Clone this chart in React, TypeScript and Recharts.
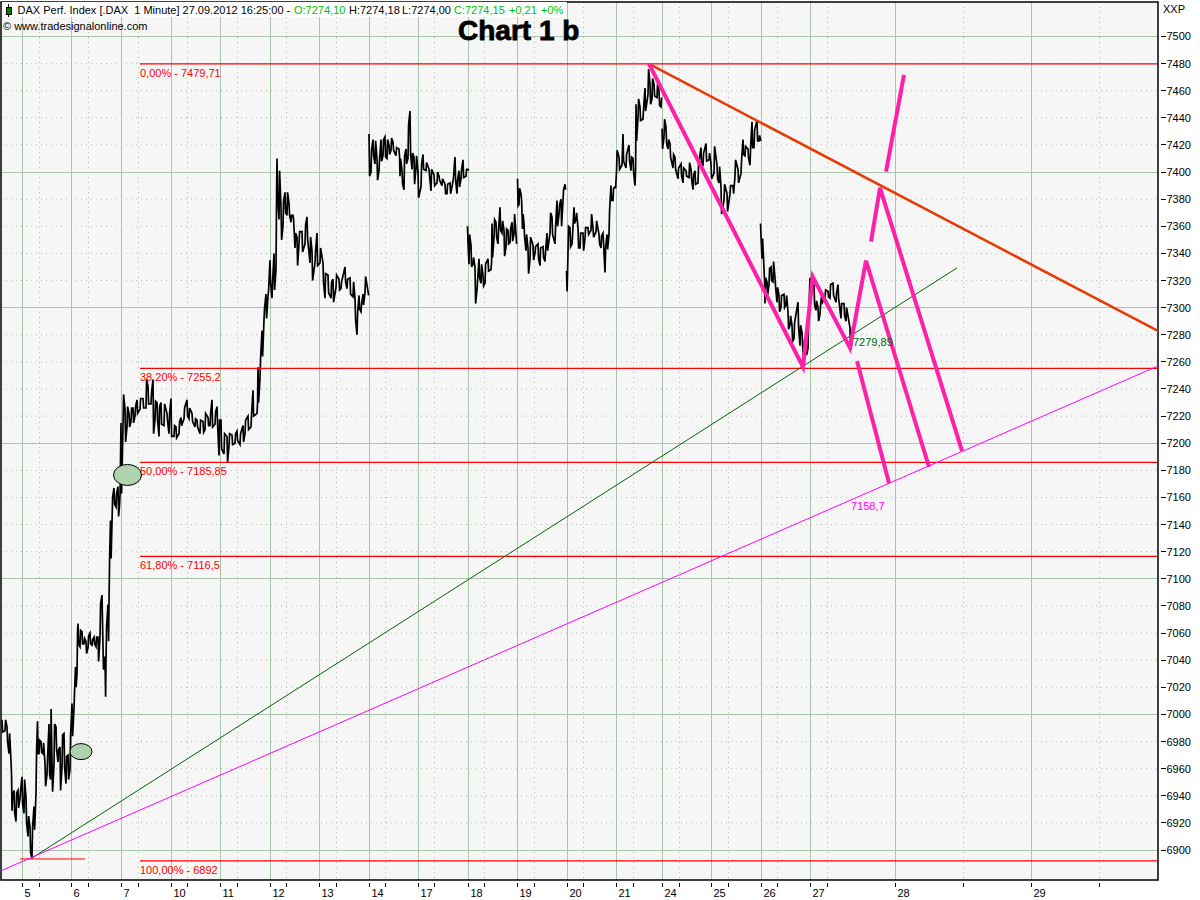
import React from 'react';
import { ComposedChart, Line, XAxis, YAxis, CartesianGrid, ReferenceDot, ReferenceArea } from 'recharts';

// slot position on the time axis, top price, bottom price of each sampled stretch
type Col = [number, number, number];
const stretchA: Col[] = [[2,6996,6987],[5,6996,6988],[7,6991,6980],[9,6986,6971],[11,6966,6954],[12,6940,6929],[14,6944,6928],[16,6942,6921],[18,6944,6931],[20,6944,6938],[22,6954,6934],[24,6952,6927],[26,6939,6920],[28,6925,6910],[30,6917,6898],[32,6917,6894],[34,6932,6915],[36,6974,6942],[37.5,6995,6971],[39,6981,6971],[41,6980,6972],[43,6979,6971],[45,6964,6947],[47,6968,6956],[49,6993,6956],[50.5,7004,6952],[52,6966,6943],[54,6993,6963],[56,6991,6974],[58,6974,6965],[60,6976,6944],[62,6985,6961],[64,6986,6961],[66,6969,6949],[68,6970,6952],[70,6985,6959],[72,7008,6984],[74,7018,7004],[75.5,7035,7020],[77,7062,7030],[78,7067,7052],[80,7062,7050],[82,7061,7052],[84,7056,7052],[86,7054,7045],[88,7058,7049],[90,7060,7052],[92,7055,7051],[94,7057,7052],[96,7057,7050],[98,7057,7039],[100,7082,7057],[102,7088,7065],[103.5,7041,7033],[105,7042,7013],[106,7065,7040],[108,7081,7054],[109,7115,7082],[110.5,7143,7115],[112,7160,7141],[114,7167,7155],[116,7163,7153],[118,7168,7146],[119.5,7163,7154],[121,7215,7163],[123,7236,7212],[125,7225,7201],[127,7227,7212],[129,7222,7212],[131,7226,7216],[133,7226,7215],[135,7227,7220],[137,7232,7222],[140,7233,7225],[143,7233,7226],[146,7247,7226],[148,7242,7229],[151,7238,7229],[153,7247,7207],[155,7231,7217],[157,7230,7217],[159,7227,7205],[161,7230,7214],[164,7229,7213],[167,7222,7216],[169,7222,7207],[171,7233,7205],[174,7213,7205],[176,7212,7204],[179,7216,7207],[181,7219,7213],[184,7226,7218],[187,7232,7220],[189,7226,7218],[192,7222,7216],[195,7218,7212],[197,7217,7212],[200,7217,7207],[203,7216,7208],[205,7222,7210],[208,7219,7213],[210,7222,7213],[212,7232,7212],[215,7223,7214],[217,7227,7214],[219,7217,7191],[221,7217,7196],[224,7207,7192],[227,7205,7186],[229,7207,7198],[232,7206,7199],[235,7207,7200],[237,7209,7202],[240,7207,7199],[243,7213,7201],[245,7217,7207],[248,7220,7210],[251,7222,7212],[253,7239,7220],[257,7230,7222],[258,7256,7230],[260,7263,7248],[262,7283,7264],[264,7300,7291],[266,7310,7292],[268,7313,7308],[270,7335,7318],[272,7319,7307],[274,7340,7313],[276,7384,7328],[277,7410,7384],[279,7401,7365],[281,7374,7350],[283,7379,7360],[285,7385,7370],[287,7385,7368],[289,7377,7368],[291,7368,7363],[293,7368,7365],[295,7355,7344],[297,7352,7331],[299,7356,7347],[302,7356,7341],[305,7361,7347],[307,7367,7351],[310,7352,7333],[312,7342,7320],[315,7342,7333],[317,7355,7331],[320,7344,7333],[323,7333,7318],[325,7325,7307],[328,7324,7311],[331,7319,7307],[333,7321,7304],[336,7324,7315],[339,7321,7313],[341,7319,7314],[345,7330,7319],[347,7321,7314],[350,7322,7310],[353,7319,7308],[355,7307,7291],[357,7296,7280],[359,7309,7299],[361,7303,7297],[363,7310,7302],[365,7323,7311],[368,7312,7309]];
const stretchB: Col[] = [[369,7428,7397],[371,7416,7400],[373,7424,7412],[375,7423,7406],[377,7410,7394],[379,7410,7401],[381,7424,7408],[383,7424,7412],[385,7426,7411],[387,7424,7410],[389,7420,7413],[391,7425,7416],[393,7422,7416],[396,7418,7412],[399,7417,7411],[400,7410,7397],[402,7401,7391],[404,7412,7387],[406,7417,7406],[408,7435,7410],[410,7445,7413],[412,7414,7402],[414,7411,7391],[416,7412,7403],[418,7400,7381],[421,7406,7389],[423,7413,7402],[426,7407,7401],[429,7402,7397],[431,7402,7386],[434,7398,7390],[437,7400,7392],[439,7397,7394],[442,7395,7390],[445,7391,7384],[447,7391,7384],[450,7392,7384],[453,7397,7393],[455,7411,7394],[457,7394,7384],[459,7401,7389],[461,7402,7395],[463,7409,7396],[466,7402,7397],[468,7402,7401]];
const stretchC: Col[] = [[467.5,7360,7346],[469,7354,7332],[471,7346,7330],[473,7337,7332],[475,7330,7303],[477,7320,7313],[479,7336,7322],[481,7332,7318],[483,7324,7316],[485,7332,7318],[488,7336,7327],[491,7334,7328],[492,7362,7337],[494,7365,7352],[496,7363,7352],[498,7358,7347],[500,7374,7357],[502,7364,7355],[504,7357,7338],[506,7358,7345],[508,7357,7347],[510,7358,7348],[512,7363,7349],[514,7369,7354],[516,7354,7347]];
const stretchD: Col[] = [[517.5,7395,7375],[519,7388,7376],[521,7384,7379],[522.5,7369,7358],[524,7362,7352],[526,7354,7342],[528,7344,7325],[530,7352,7336],[533,7346,7335],[535,7345,7340],[538,7347,7336],[540,7344,7331],[543,7345,7337],[545,7342,7334],[547,7355,7342],[550,7370,7355],[552,7367,7354],[555,7360,7347],[557,7379,7360],[559,7376,7369],[561,7380,7360],[563,7387,7379],[565,7391,7387]];
const stretchE: Col[] = [[566.5,7327,7312],[568,7360,7340],[570,7359,7345],[572,7354,7347],[574,7374,7362],[576,7370,7365],[578,7359,7344],[580,7355,7344],[583,7355,7342],[585,7359,7351],[588,7359,7354],[591,7369,7357],[593,7359,7352],[596,7364,7356],[599,7354,7347],[601,7353,7344],[603,7355,7347],[605,7344,7326],[607,7354,7343],[609,7372,7354],[611,7390,7379],[613,7388,7379],[615,7389,7388],[616.5,7416,7400],[619,7411,7402],[622,7419,7405],[623,7428,7408],[626,7413,7403],[629,7420,7408],[631,7411,7401],[633,7410,7400],[635,7403,7390],[636,7450,7423],[638,7454,7440],[640,7448,7438],[643,7447,7439],[645,7462,7445],[648,7476,7457],[650,7465,7450],[652,7469,7454],[654,7465,7456],[657,7465,7455],[659,7460,7449],[661,7455,7448]];
const stretchF: Col[] = [[662,7432,7417],[664,7439,7426],[666,7433,7421],[668,7424,7417],[670,7421,7411],[673,7413,7403],[675,7411,7402],[678,7403,7395],[681,7406,7397],[683,7403,7392],[686,7401,7397],[689,7407,7396],[691,7402,7395],[693,7398,7387],[695,7401,7391],[698,7406,7392],[701,7418,7405],[703,7414,7405],[706,7421,7408],[709,7414,7409],[711,7406,7395],[714,7419,7399],[717,7405,7395],[719,7404,7392],[721,7389,7369],[724,7391,7379],[727,7384,7371],[730,7390,7384],[733,7390,7384],[735,7409,7397],[738,7402,7392],[741,7409,7399],[743,7424,7413],[745,7419,7412],[748,7417,7410],[750,7418,7405],[752,7437,7418],[754,7431,7418],[757,7438,7423],[759,7427,7423],[760.5,7424,7423]];
const stretchG: Col[] = [[760.5,7362,7351],[762,7351,7336],[764,7329,7319],[765,7322,7303],[767,7319,7309],[769,7329,7317],[771,7330,7320],[773,7334,7319],[775,7322,7315],[777,7315,7304],[779,7309,7297],[781,7309,7300],[784,7310,7300],[786,7309,7302],[788,7297,7284],[790,7294,7287],[792,7287,7275],[794,7289,7277],[798,7304,7285],[800,7287,7272],[802,7282,7272],[804,7277,7259],[806,7275,7265],[808,7292,7270],[810,7322,7307],[812,7322,7312],[814,7317,7302],[816,7305,7298],[818,7300,7290],[820,7302,7295],[822,7311,7304],[825,7313,7307],[828,7312,7308],[830,7317,7307],[833,7318,7309],[836,7311,7304],[838,7317,7307],[841,7303,7292],[844,7303,7294],[846,7300,7290],[850,7285,7269],[852,7286,7274]];
const stretches = [stretchA, stretchB, stretchC, stretchD, stretchE, stretchF, stretchG];

const dayLabels = ['5','6','7','10','11','12','13','14','17','18','19','20','21','24','25','26','27','28','29'];
const dayTicks = [22.5,71.5,121.5,171.5,220.5,270.5,319.5,369.5,418.5,468.5,517.5,567.5,616.5,662.5,711.5,761.5,810.5,895.5,1031.5];
const halfDayTicks = [39.5,88.5,138.5,187.5,237.5,286.5,336.5,385.5,434.5,484.5,534.5,583.5,633.5,679.5,728.5,777.5,827.5,963.5,1099.5];
const priceTicks = [6900,6920,6940,6960,6980,7000,7020,7040,7060,7080,7100,7120,7140,7160,7180,7200,7220,7240,7260,7280,7300,7320,7340,7360,7380,7400,7420,7440,7460,7480,7500];
const hundredTicks = [6900,7000,7100,7200,7300,7400,7500];
const twentyTicks = priceTicks.filter((p) => !hundredTicks.includes(p));

const fibLevels = [7479.71, 7255.2, 7185.85, 7116.5, 6892];
const fibLabels = ['0,00% - 7479,71', '38,20% - 7255,2', '50,00% - 7185,85', '61,80% - 7116,5', '100,00% - 6892'];

type Pt = { x: number; y: number };
const resistance: Pt[] = [{ x: 649, y: 7479.7 }, { x: 1158, y: 7282.8 }];
const greenTrend: Pt[] = [{ x: 31.7, y: 6894 }, { x: 957, y: 7329.3 }];
const magentaTrend: Pt[] = [{ x: 1, y: 6884.7 }, { x: 1158, y: 7257 }];
const lowMark: Pt[] = [{ x: 20, y: 6893.4 }, { x: 85, y: 6893.4 }];
const pinkMain: Pt[] = [{ x: 649, y: 7479.7 }, { x: 803, y: 7256.2 }, { x: 812.7, y: 7322.8 }, { x: 850, y: 7270.2 }, { x: 866, y: 7334.6 }, { x: 929, y: 7182.5 }];
const pinkSecond: Pt[] = [{ x: 871, y: 7348.7 }, { x: 880, y: 7388.3 }, { x: 962, y: 7194.3 }];
const pinkThird: Pt[] = [{ x: 886, y: 7400.3 }, { x: 904, y: 7471.6 }];
const pinkFourth: Pt[] = [{ x: 857, y: 7260.6 }, { x: 889, y: 7170.7 }];
const ovals = [{ x: 127.5, y: 7176.6, rx: 14, ry: 10.5 }, { x: 81, y: 6972.6, rx: 11, ry: 8 }];

const priceRows: { x: number; y: number | null }[] = [];
stretches.forEach((s) => {
  s.forEach(([x, hi, lo], i) => {
    if (i % 2 === 0) {
      priceRows.push({ x, y: hi });
      priceRows.push({ x: x + 0.6, y: lo });
    } else {
      priceRows.push({ x, y: lo });
      priceRows.push({ x: x + 0.6, y: hi });
    }
  });
  priceRows.push({ x: s[s.length - 1][0] + 0.7, y: null });
});

const FONT = '"Liberation Sans", Arial, sans-serif';
const GRID = '#aac4aa';
const fmtPlain = { fontFamily: FONT, fontSize: 11 };

const XTick = (p: any) => {
  const i = dayTicks.indexOf(p.payload.value);
  return (
    <g>
      <line x1={p.x} x2={p.x} y1={883} y2={887} stroke="#000" shapeRendering="crispEdges" />
      {i >= 0 && <text x={p.x + 2} y={897} {...fmtPlain} fill="#000">{dayLabels[i]}</text>}
    </g>
  );
};
const YTick = (p: any) => (
  <g>
    <line x1={1161} x2={1166} y1={p.y} y2={p.y} stroke="#000" shapeRendering="crispEdges" />
    <text x={1166.5} y={p.y + 4} {...fmtPlain} fill="#000">{p.payload.value}</text>
  </g>
);

const thin = (data: Pt[], stroke: string, w: number, key: string) => (
  <Line key={key} data={data} dataKey="y" stroke={stroke} strokeWidth={w} dot={false} isAnimationActive={false} legendType="none" />
);
const note = (x: number, y: number, txt: string, fill: string, dy: number, key: string) => (
  <ReferenceDot key={key} x={x} y={y} r={1} shape={(s: any) => <text x={s.cx} y={s.cy + dy} {...fmtPlain} fill={fill}>{txt}</text>} />
);

const headerText: [number, string, string][] = [
  [17.5, 'DAX Perf. Index [.DAX  1 Minute] 27.09.2012 16:25:00 - ', '#000'],
  [294, 'O:7274,10', '#00c000'],
  [349, 'H:7274,18', '#000'],
  [402, 'L:7274,00', '#000'],
  [454, 'C:7274,15', '#00c000'],
  [509, '+0,21', '#00c000'],
  [541, '+0%', '#00c000'],
];

export default function App() {
  return (
    <div style={{ position: 'absolute', left: 0, top: 0, width: 1200, height: 900, background: '#fff', overflow: 'hidden' }}>
      <ComposedChart width={1200} height={900} data={priceRows} margin={{ top: 2, left: 1, right: 0, bottom: 0 }}>
        <CartesianGrid fill="#f6f6f6" stroke={GRID} strokeWidth={1} horizontalValues={hundredTicks} verticalValues={dayTicks} shapeRendering="crispEdges" />
        <CartesianGrid stroke={GRID} strokeWidth={1} strokeDasharray="1 4" horizontalValues={twentyTicks} verticalValues={halfDayTicks} />
        <XAxis dataKey="x" type="number" domain={[1, 1158]} ticks={[...dayTicks, ...halfDayTicks].sort((a, b) => a - b)} tick={XTick} tickLine={false} axisLine={false} height={20} allowDataOverflow interval={0} />
        <YAxis orientation="right" type="number" domain={[6877.9, 7525.4]} ticks={priceTicks} tick={YTick} tickLine={false} axisLine={false} width={42} allowDataOverflow interval={0} />
        <Line dataKey="y" stroke="#000" strokeWidth={1.7} dot={false} connectNulls={false} isAnimationActive={false} legendType="none" />
        {fibLevels.map((lv, i) => thin([{ x: 140, y: lv }, { x: 1158, y: lv }], '#ff0000', 1.2, `fib${i}`))}
        {thin(lowMark, '#ff0000', 1, 'low')}
        {thin(greenTrend, '#006400', 1, 'green')}
        {thin(magentaTrend, '#ff00ff', 1, 'magenta')}
        {thin(resistance, '#e83a00', 2.5, 'res')}
        {thin(pinkMain, '#ff20aa', 4, 'p1')}
        {thin(pinkSecond, '#ff20aa', 4, 'p2')}
        {thin(pinkThird, '#ff20aa', 4, 'p3')}
        {thin(pinkFourth, '#ff20aa', 4, 'p4')}
        {ovals.map((o, i) => (
          <ReferenceDot key={`o${i}`} x={o.x} y={o.y} r={1} shape={(s: any) => <ellipse cx={s.cx} cy={s.cy} rx={o.rx} ry={o.ry} fill="#aed3ad" stroke="#000" strokeWidth={1} />} />
        ))}
        {fibLevels.map((lv, i) => note(140, lv, fibLabels[i], '#ff0000', 13, `fl${i}`))}
        {note(853, 7272, '7279,89', '#006400', 0, 'n1')}
        {note(851, 7158.7, '7158,7', '#ff00ff', 11, 'n2')}
        <ReferenceArea x1={1} x2={1158} y1={6877.9} y2={7525.4} fill="none" stroke="#000" strokeWidth={1.5} ifOverflow="visible" />
      </ComposedChart>

      <div style={{ position: 'absolute', left: 2, top: 2, width: 565, height: 15, background: '#fff' }} />
      {headerText.map(([x, t, c], i) => (
        <div key={i} style={{ position: 'absolute', left: x, top: 3, font: `11px ${FONT}`, color: c, whiteSpace: 'pre', lineHeight: '14px' }}>{t}</div>
      ))}
      <div style={{ position: 'absolute', left: 8, top: 4, width: 1, height: 13, background: '#000' }} />
      <div style={{ position: 'absolute', left: 6, top: 7, width: 4, height: 6, background: '#008000', border: '1px solid #000' }} />
      <div style={{ position: 'absolute', left: 3, top: 19, font: `11px ${FONT}`, color: '#000', whiteSpace: 'pre', lineHeight: '14px' }}>© www.tradesignalonline.com</div>
      <div style={{ position: 'absolute', left: 458, top: 15, font: `bold 28px ${FONT}`, WebkitTextStroke: '0.8px #000', color: '#000', whiteSpace: 'pre', lineHeight: '31px' }}>Chart 1 b</div>
      <div style={{ position: 'absolute', left: 1163, top: 2, font: `11px ${FONT}`, color: '#000', lineHeight: '14px' }}>XXP</div>
    </div>
  );
}
